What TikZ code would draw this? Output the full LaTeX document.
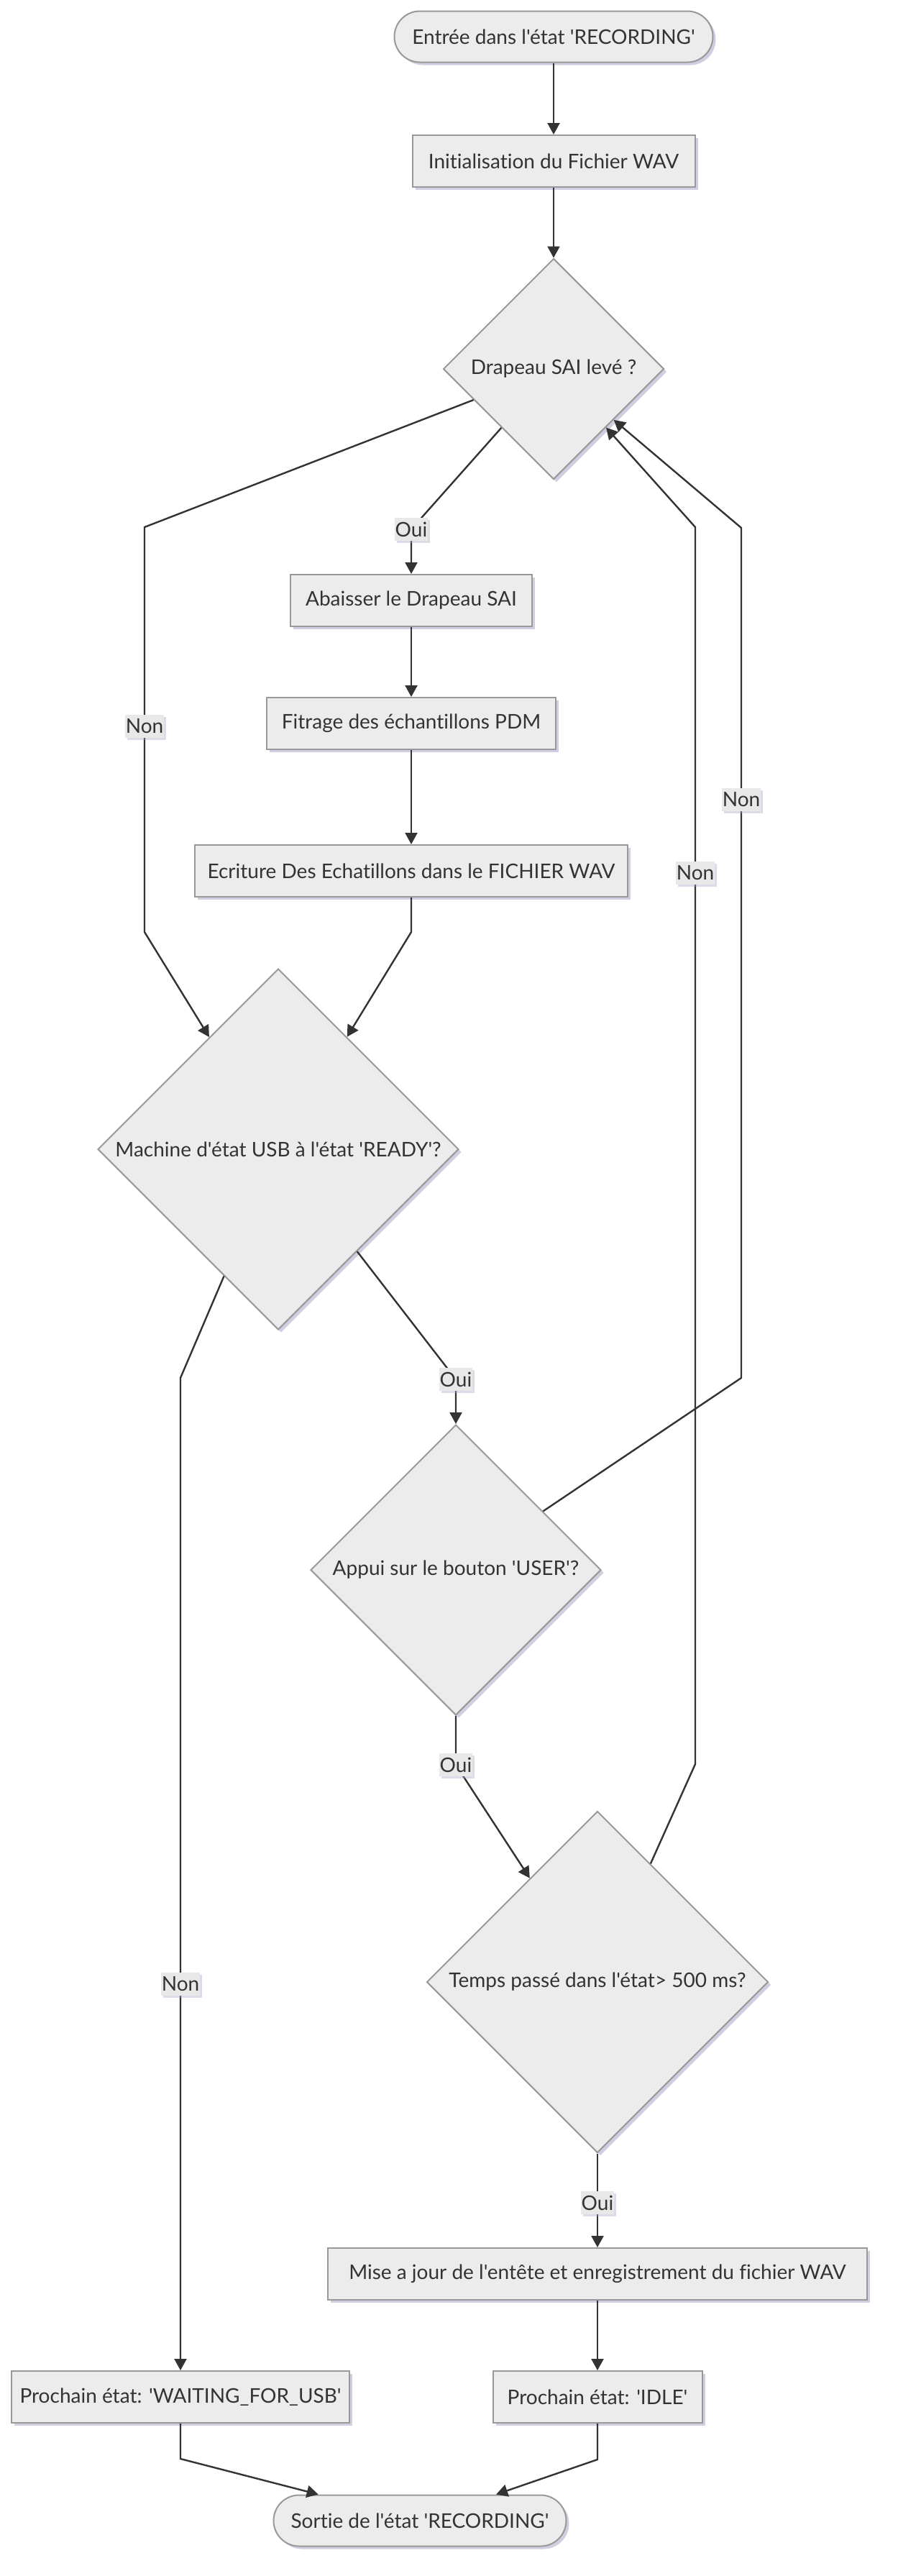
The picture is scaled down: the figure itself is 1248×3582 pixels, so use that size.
\documentclass[tikz,border=0pt]{standalone}
\usepackage{fontspec}
\setmainfont{Lato}[Ligatures={TeXOff,NoCommon}]
\usetikzlibrary{shapes.geometric,arrows.meta,shadows}
\definecolor{nodefill}{HTML}{ECECEC}
\definecolor{nodedraw}{HTML}{999999}
\definecolor{edgecol}{HTML}{333333}
\definecolor{shadowcol}{HTML}{A8A8C8}
\definecolor{labelfill}{HTML}{E8E8E8}
\definecolor{textcol}{HTML}{333333}
\begin{document}
\begin{tikzpicture}[x=1pt,y=-1pt,
  font=\fontsize{28}{33}\selectfont,
  base/.style={fill=nodefill, draw=nodedraw, line width=2pt, text=textcol, inner sep=0pt,
    drop shadow={shadow xshift=4pt, shadow yshift=-4pt, fill=shadowcol, opacity=0.55}},
  box/.style={base, rectangle, minimum height=72pt},
  term/.style={base, rectangle, rounded corners=35.5pt, minimum height=71pt},
  dec/.style={base, diamond, aspect=1},
  lbl/.style={fill=labelfill, text=textcol, inner xsep=1pt, inner ysep=0pt, minimum height=32pt,
    drop shadow={shadow xshift=3pt, shadow yshift=-3pt, fill=shadowcol, opacity=0.4}},
  conn/.style={draw=edgecol, line width=2.4pt, -{Triangle[length=16pt,width=17pt]}}
]
\useasboundingbox (0,0) rectangle (1248,3582);

% nodes
\node[term, minimum width=443pt] (start) at (770,51) {Entrée dans l'état 'RECORDING'};
\node[box, minimum width=393pt] (init) at (770,224) {Initialisation du Fichier WAV};
\node[dec, minimum width=307pt, minimum height=307pt] (d1) at (770,513) {Drapeau SAI levé ?};
\node[box, minimum width=336pt] (abaisser) at (572,835) {Abaisser le Drapeau SAI};
\node[box, minimum width=402pt] (fitrage) at (572,1006) {Fitrage des échantillons PDM};
\node[box, minimum width=602pt] (ecriture) at (572,1211) {Ecriture Des Echatillons dans le FICHIER WAV};
\node[dec, minimum width=502pt, minimum height=502pt] (d2) at (387,1598) {Machine d'état USB à l'état 'READY'?};
\node[dec, minimum width=404pt, minimum height=404pt] (d3) at (634,2183) {Appui sur le bouton 'USER'?};
\node[dec, minimum width=475pt, minimum height=475pt] (d4) at (831,2756) {Temps passé dans l'état> 500 ms?};
\node[box, minimum width=750pt] (maj) at (831,3162) {Mise a jour de l'entête et enregistrement du fichier WAV};
\node[box, minimum width=470pt] (waitusb) at (251,3333) {Prochain état: 'WAITING\_FOR\_USB'};
\node[box, minimum width=291pt] (idle) at (831,3333) {Prochain état: 'IDLE'};
\node[term, minimum width=407pt] (stop) at (584,3505) {Sortie de l'état 'RECORDING'};

% bend points
\coordinate (o1) at (572,736);
\coordinate (n1a) at (201,733);
\coordinate (n1b) at (201,1296);
\coordinate (n1) at (201,1010);
\coordinate (e2) at (572,1296);
\coordinate (o2) at (634,1918);
\coordinate (n4a) at (251,1916);
\coordinate (n4) at (251,2759);
\coordinate (o3) at (634,2454);
\coordinate (n2a) at (1031,1916);
\coordinate (n2b) at (1031,734);
\coordinate (n2) at (1031,1112);
\coordinate (n3a) at (967,2453);
\coordinate (n3b) at (967,733);
\coordinate (n3) at (967,1214);
\coordinate (o4) at (831,3063);
\coordinate (w1) at (251,3419);
\coordinate (i1) at (831,3420);

% connectors
\draw[conn] (start) -- (init);
\draw[conn] (init) -- (d1);
\draw[conn] (d1) -- (o1) -- (abaisser);
\draw[conn] (abaisser) -- (fitrage);
\draw[conn] (fitrage) -- (ecriture);
\draw[conn] (ecriture) -- (e2) -- (d2);
\draw[conn] (d1) -- (n1a) -- (n1b) -- (d2);
\draw[conn] (d2) -- (o2) -- (d3);
\draw[conn] (d2) -- (n4a) -- (waitusb);
\draw[conn] (d3) -- (o3) -- (d4);
\draw[conn] (d3) -- (n2a) -- (n2b) -- (d1);
\draw[conn] (d4) -- (n3a) -- (n3b) -- (d1);
\draw[conn] (d4) -- (o4) -- (maj);
\draw[conn] (maj) -- (idle);
\draw[conn] (waitusb) -- (w1) -- (stop);
\draw[conn] (idle) -- (i1) -- (stop);

% edge labels
\node[lbl] (lo1) at (o1) {Oui};
\node[lbl] (ln1) at (n1) {Non};
\node[lbl] (lo2) at (o2) {Oui};
\node[lbl] (ln4) at (n4) {Non};
\node[lbl] (lo3) at (o3) {Oui};
\node[lbl] (ln2) at (n2) {Non};
\node[lbl] (ln3) at (n3) {Non};
\node[lbl] (lo4) at (o4) {Oui};
\end{tikzpicture}
\end{document}
